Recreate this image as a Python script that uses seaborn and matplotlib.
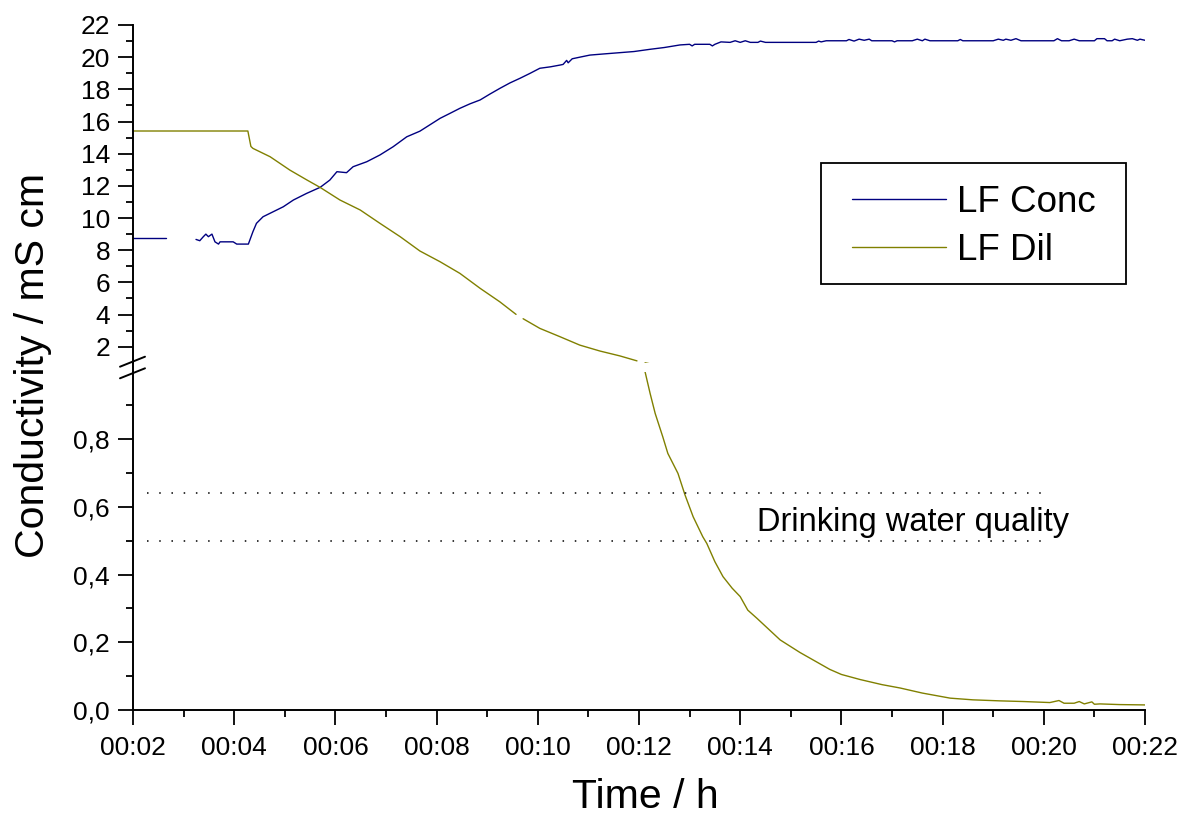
import numpy as np
import pandas as pd
import matplotlib
matplotlib.use("Agg")
import matplotlib.pyplot as plt
import seaborn as sns
from matplotlib.ticker import FixedLocator, FuncFormatter
from matplotlib.lines import Line2D
from matplotlib.patches import Rectangle

# ---------------------------------------------------------------- data
# time in minutes, conductivity in mS/cm
conc_t_a = [2.0, 2.65]
conc_v_a = [8.73, 8.73]

conc_t_b = [3.245, 3.32, 3.39, 3.44, 3.49, 3.56, 3.62, 3.69, 3.72, 3.98, 4.05, 4.28,
            4.37, 4.44, 4.57, 4.77, 4.97, 5.17, 5.43, 5.70, 5.89, 6.03, 6.22, 6.35,
            6.62, 6.88, 7.14, 7.41, 7.67, 7.87, 8.07, 8.26, 8.46, 8.66, 8.86, 9.05,
            9.25, 9.45, 9.65, 9.85, 10.04, 10.25, 10.44, 10.5, 10.57, 10.6, 10.68,
            10.83, 11.03, 11.3, 11.62, 11.9, 12.22, 12.5, 12.81,
            13.0, 13.05, 13.1, 13.4, 13.45, 13.5, 13.62, 13.8, 13.9, 14.0, 14.1,
            14.2, 14.35, 14.4, 14.5, 15.5, 15.55, 15.6, 15.7, 16.1, 16.15, 16.25,
            16.35, 16.45, 16.55, 16.6, 17.0, 17.05, 17.1, 17.4, 17.5, 17.6, 17.65,
            17.75, 18.3, 18.35, 18.4, 19.0, 19.1, 19.2, 19.25, 19.35, 19.45, 19.55,
            20.2, 20.27, 20.35, 20.5, 20.6, 20.7, 21.0, 21.05, 21.2, 21.25, 21.35,
            21.4, 21.5, 21.65, 21.75, 21.85, 21.9, 22.0]
conc_v_b = [8.67, 8.59, 8.84, 9.0, 8.84, 9.0, 8.52, 8.38, 8.52, 8.52, 8.38, 8.38,
            9.15, 9.67, 10.08, 10.39, 10.70, 11.12, 11.53, 11.91, 12.36, 12.88, 12.82, 13.19,
            13.5, 13.92, 14.43, 15.05, 15.40, 15.8, 16.2, 16.5, 16.82, 17.1, 17.34, 17.7,
            18.06, 18.4, 18.69, 19.0, 19.31, 19.4, 19.51, 19.55, 19.8, 19.65, 19.9,
            20.0, 20.13, 20.2, 20.28, 20.35, 20.49, 20.6, 20.76,
            20.8, 20.7, 20.8, 20.8, 20.7, 20.8, 20.95, 20.92, 21.02, 20.92, 21.02,
            20.92, 20.92, 21.0, 20.92, 20.92, 21.0, 20.95, 21.02, 21.02, 21.1, 21.0,
            21.12, 21.05, 21.12, 21.02, 21.02, 20.95, 21.02, 21.02, 21.12, 21.02, 21.12,
            21.02, 21.02, 21.1, 21.02, 21.02, 21.12, 21.05, 21.12, 21.05, 21.15, 21.02,
            21.02, 21.15, 21.02, 21.02, 21.12, 21.02, 21.02, 21.15, 21.15, 21.02, 21.02,
            21.12, 21.02, 21.12, 21.15, 21.05, 21.12, 21.05]

dil_t_a = [2.0, 4.27, 4.33, 4.37, 4.71, 5.10, 5.44, 5.70, 6.09, 6.49, 6.88, 7.28,
           7.67, 8.07, 8.46, 8.86, 9.25, 9.57]
dil_v_a = [15.41, 15.41, 14.45, 14.33, 13.81, 12.98, 12.36, 11.9, 11.12, 10.5, 9.67, 8.84,
           7.95, 7.28, 6.56, 5.63, 4.79, 4.01]

dil_t_b = [9.71, 10.04, 10.44, 10.83, 11.23, 11.62, 11.96]
dil_v_b = [3.74, 3.14, 2.62, 2.10, 1.73, 1.43, 1.12]

dil_t_c = [12.12, 12.22, 12.32, 12.47, 12.57, 12.77, 12.91, 13.07, 13.26, 13.34, 13.50,
           13.66, 13.84, 14.00, 14.15, 14.33, 14.79, 15.18, 15.77, 16.0, 16.37, 16.8,
           17.16, 17.6, 18.15, 18.6, 19.13, 19.6, 20.12, 20.3, 20.4, 20.6, 20.7, 20.8,
           20.95, 21.0, 21.11, 21.5, 22.0]
dil_v_c = [0.999, 0.935, 0.876, 0.807, 0.758, 0.699, 0.635, 0.571, 0.512, 0.492, 0.438,
           0.394, 0.36, 0.335, 0.295, 0.271, 0.207, 0.17, 0.12, 0.105, 0.09, 0.075,
           0.065, 0.05, 0.035, 0.03, 0.027, 0.025, 0.022, 0.028, 0.02, 0.02, 0.025, 0.018,
           0.024, 0.017, 0.018, 0.016, 0.015]

quality_limits = [0.5, 0.64]
quality_span = [2.28, 20.12]
quality_label = "Drinking water quality"

series_names = ["LF Conc", "LF Dil"]
series_colors = {"LF Conc": "#000080", "LF Dil": "#808000"}

x_major = [2, 4, 6, 8, 10, 12, 14, 16, 18, 20, 22]
x_minor = [3, 5, 7, 9, 11, 13, 15, 17, 19, 21]
y_top_major = [2, 4, 6, 8, 10, 12, 14, 16, 18, 20, 22]
y_top_minor = [3, 5, 7, 9, 11, 13, 15, 17, 19, 21]
y_bot_major = [0.0, 0.2, 0.4, 0.6, 0.8]
y_bot_minor = [0.1, 0.3, 0.5, 0.7, 0.9]

# long table: one unit per continuous stretch of each series
pieces = [
    ("LF Conc", "c1", conc_t_a, conc_v_a),
    ("LF Conc", "c2", conc_t_b, conc_v_b),
    ("LF Dil", "d1", dil_t_a, dil_v_a),
    ("LF Dil", "d2", dil_t_b, dil_v_b),
    ("LF Dil", "d3", dil_t_c, dil_v_c),
]
df = pd.concat(
    [pd.DataFrame({"t": t, "v": v, "series": s, "seg": g}) for s, g, t, v in pieces],
    ignore_index=True,
)

# ---------------------------------------------------------------- style
sns.set_theme(style="ticks")
plt.rcParams["font.family"] = ["Liberation Sans", "DejaVu Sans"]
plt.rcParams.update({
    "axes.edgecolor": "black",
    "text.color": "black",
    "axes.labelcolor": "black",
    "xtick.color": "black",
    "ytick.color": "black",
    "axes.linewidth": 1.4,
})

W, H = 1185, 816
fig = plt.figure(figsize=(W / 100, H / 100), dpi=100)


def fx(px):
    return px / W


def fy(py):
    return 1 - py / H


left, right = 133, 1145
ax_top = fig.add_axes([fx(left), fy(362.8), fx(right) - fx(left), fy(25) - fy(362.8)])
ax_bot = fig.add_axes([fx(left), fy(710), fx(right) - fx(left), fy(371.5) - fy(710)])

for ax in (ax_top, ax_bot):
    sns.lineplot(data=df, x="t", y="v", hue="series", units="seg", estimator=None,
                 sort=False, palette=series_colors, linewidth=1.0, legend=False, ax=ax)
    ax.set_xlim(2, 22)
    ax.set_xlabel("")
    ax.set_ylabel("")
    ax.spines["top"].set_visible(False)
    ax.spines["right"].set_visible(False)
    ax.tick_params(axis="both", which="major", direction="out", length=10.5,
                   width=1.3, labelsize=19, pad=6)
    ax.tick_params(axis="both", which="minor", direction="out", length=5, width=1.3)
    ax.xaxis.set_major_locator(FixedLocator(x_major))
    ax.xaxis.set_minor_locator(FixedLocator(x_minor))

ax_top.set_ylim(1, 22)
ax_top.yaxis.set_major_locator(FixedLocator(y_top_major))
ax_top.yaxis.set_minor_locator(FixedLocator(y_top_minor))
ax_top.yaxis.set_major_formatter(FuncFormatter(lambda v, p: f"{int(round(v))}"))
ax_top.spines["bottom"].set_visible(False)
ax_top.tick_params(axis="x", which="both", bottom=False, labelbottom=False)

ax_bot.set_ylim(0, 1.0)
ax_bot.yaxis.set_major_locator(FixedLocator(y_bot_major))
ax_bot.yaxis.set_minor_locator(FixedLocator(y_bot_minor))
ax_bot.yaxis.set_major_formatter(FuncFormatter(lambda v, p: f"{v:.1f}".replace(".", ",")))
ax_bot.xaxis.set_major_formatter(FuncFormatter(lambda v, p: f"00:{int(round(v)):02d}"))
ax_bot.tick_params(axis="x", which="major", pad=8)

# drinking-water band
for lim in quality_limits:
    ax_bot.plot(quality_span, [lim, lim], color="black", linewidth=1.1,
                linestyle=(0, (1, 7.0)))
ax_bot.text(14.33, 0.555, quality_label, fontsize=23.5, va="center", ha="left")

# continuous left spine across the break, plus the break marks
fig.add_artist(Line2D([fx(left), fx(left)], [fy(362.8), fy(371.5)],
                      transform=fig.transFigure, color="black", linewidth=1.4))
for y0 in (366.7, 378.3):
    fig.add_artist(Line2D([fx(120), fx(145)], [fy(y0), fy(y0 - 10)],
                          transform=fig.transFigure, color="black", linewidth=1.4))

# axis titles
fig.text(fx(33), fy(365), "Conductivity / mS cm", rotation=90, fontsize=29.5,
         ha="center", va="center")
fig.text(fx(645), fy(797), "Time / h", fontsize=29.5, ha="center", va="center")

# legend with a square frame
handles = [Line2D([], [], color=series_colors[s], linewidth=1.0) for s in series_names]
fig.legend(handles, series_names, loc="upper left",
           bbox_to_anchor=(fx(852), fy(185)), bbox_transform=fig.transFigure,
           frameon=False, fontsize=26.5, borderpad=0, borderaxespad=0,
           handlelength=2.55, handletextpad=0.3, labelspacing=0.36)
fig.add_artist(Rectangle((fx(821), fy(284)), fx(1126) - fx(821), fy(163) - fy(284),
                         transform=fig.transFigure, fill=False, edgecolor="black",
                         linewidth=1.3))

fig.savefig("out.png", dpi=100)
